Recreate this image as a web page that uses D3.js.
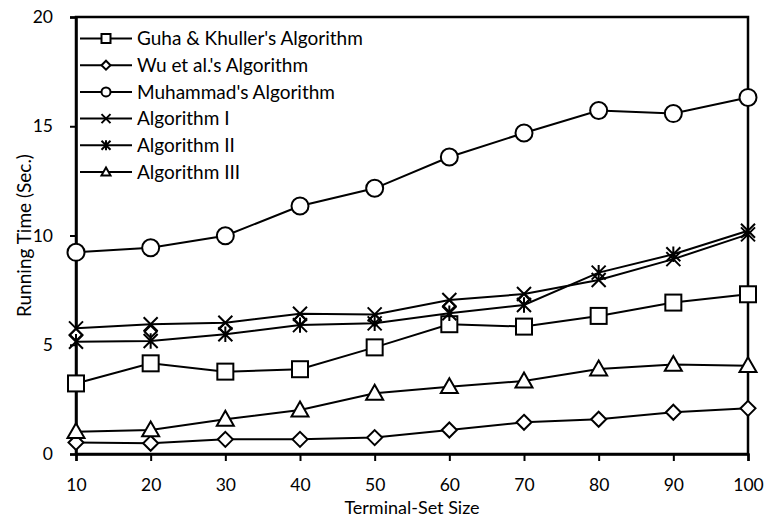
<!DOCTYPE html>
<html>
<head>
<meta charset="utf-8">
<script src="https://cdn.jsdelivr.net/npm/d3@7"></script>
<style>
  body { margin: 0; background: #fff; }
  text { font-family: Lato, "Open Sans", sans-serif; fill: #000; }
</style>
</head>
<body>
<div id="chart"></div>
<script>
// terminal-set sizes
const sizes = [10, 20, 30, 40, 50, 60, 70, 80, 90, 100];

const guha = [3.23, 4.15, 3.77, 3.88, 4.88, 5.94, 5.83, 6.32, 6.93, 7.31];
const wu = [0.53, 0.49, 0.67, 0.67, 0.75, 1.10, 1.45, 1.59, 1.91, 2.09];
const muhammad = [9.23, 9.44, 9.99, 11.35, 12.16, 13.59, 14.69, 15.72, 15.58, 16.32];
const algI = [5.75, 5.94, 6.01, 6.42, 6.39, 7.05, 7.32, 7.96, 8.92, 10.05];
const algII = [5.14, 5.17, 5.48, 5.9, 5.98, 6.44, 6.82, 8.3, 9.14, 10.22];
const algIII = [1.02, 1.10, 1.59, 2.01, 2.78, 3.08, 3.34, 3.89, 4.1, 4.04];
// stray diamond markers that sit between Algorithm I and II in the original
const strayDiamonds = [5.45, 5.6, 5.75, 6.13, 6.13, 6.77, 7.08, null, null, null];

const yTicks = [0, 5, 10, 15, 20];

const names = ["Guha & Khuller's Algorithm", "Wu et al.'s Algorithm", "Muhammad's Algorithm",
               "Algorithm I", "Algorithm II", "Algorithm III"];
const series = [guha, wu, muhammad, algI, algII, algIII];
const shapes = ["square", "diamond", "circle", "x", "star", "triangle"];

const W = 764, H = 519;
const margin = {top: 17, right: 16, bottom: 65, left: 76};

const svg = d3.select("#chart").append("svg")
  .attr("width", W).attr("height", H);

const x = d3.scaleLinear().domain([10, 100]).range([margin.left, W - margin.right]);
const y = d3.scaleLinear().domain([0, 20]).range([H - margin.bottom, margin.top]);

// frame
svg.append("rect")
  .attr("x", x(10)).attr("y", y(20))
  .attr("width", x(100) - x(10)).attr("height", y(0) - y(20))
  .attr("fill", "none").attr("stroke", "#000").attr("stroke-width", 2.5);

const xAxis = svg.append("g")
  .attr("transform", `translate(0,${y(0)})`)
  .call(d3.axisBottom(x).tickValues(sizes).tickSize(7).tickPadding(18));
const yAxis = svg.append("g")
  .attr("transform", `translate(${x(10)},0)`)
  .call(d3.axisLeft(y).tickValues(yTicks).tickSize(6).tickPadding(17));

[xAxis, yAxis].forEach(a => {
  a.select(".domain").attr("stroke-width", 2.5);
  a.selectAll(".tick line").attr("stroke-width", 2);
  a.selectAll("text").style("font-size", "17.5px").style("font-family", "Lato, sans-serif");
});

svg.append("text")
  .attr("x", (x(10) + x(100)) / 2).attr("y", 514)
  .attr("text-anchor", "middle").style("font-size", "18px")
  .text("Terminal-Set Size");

svg.append("text")
  .attr("transform", `translate(31,${(y(0) + y(20)) / 2}) rotate(-90)`)
  .attr("text-anchor", "middle").style("font-size", "19px")
  .text("Running Time (Sec.)");

function marker(g, shape, s) {
  const st = {fill: "#fff", stroke: "#000", "stroke-width": 2};
  let m;
  if (shape === "square") {
    m = g.append("rect").attr("x", -s).attr("y", -s).attr("width", 2 * s).attr("height", 2 * s);
  } else if (shape === "diamond") {
    m = g.append("path").attr("d", `M0,${-s}L${s},0L0,${s}L${-s},0Z`);
  } else if (shape === "circle") {
    m = g.append("circle").attr("r", s);
  } else if (shape === "triangle") {
    m = g.append("path").attr("d", `M0,${-s}L${s},${s * 0.75}L${-s},${s * 0.75}Z`);
  } else if (shape === "x") {
    m = g.append("path").attr("d", `M${-s},${-s}L${s},${s}M${-s},${s}L${s},${-s}`);
  } else {
    m = g.append("path").attr("d", `M${-s},${-s}L${s},${s}M${-s},${s}L${s},${-s}M0,${-s * 1.1}L0,${s * 1.1}`);
  }
  Object.entries(st).forEach(([k, v]) => m.attr(k, v));
  return m;
}

const sizeOf = {square: 8, diamond: 7.5, circle: 8.5, triangle: 8.5, x: 7, star: 7};

const line = d3.line()
  .defined(d => d[1] != null)
  .x(d => x(d[0])).y(d => y(d[1]));

// stray diamonds go underneath
const strayG = svg.append("g");
sizes.forEach((s, i) => {
  if (strayDiamonds[i] == null) return;
  const g = strayG.append("g").attr("transform", `translate(${x(s)},${y(strayDiamonds[i])})`);
  marker(g, "diamond", 6);
});

series.forEach((vals, k) => {
  const pts = sizes.map((s, i) => [s, vals[i]]);
  svg.append("path")
    .datum(pts)
    .attr("d", line)
    .attr("fill", "none").attr("stroke", "#000").attr("stroke-width", 2);
  pts.forEach(p => {
    const g = svg.append("g").attr("transform", `translate(${x(p[0])},${y(p[1])})`);
    marker(g, shapes[k], sizeOf[shapes[k]]);
    if (shapes[k] === "x" || shapes[k] === "star") g.select("path").attr("fill", "none");
  });
});

// legend
const legend = svg.append("g").attr("transform", "translate(80,38.5)");
names.forEach((n, i) => {
  const g = legend.append("g").attr("transform", `translate(0,${i * 26.7})`);
  g.append("line").attr("x1", 0).attr("x2", 52).attr("stroke", "#000").attr("stroke-width", 2);
  const mg = g.append("g").attr("transform", "translate(26,0)");
  marker(mg, shapes[i], 4.5);
  g.append("text").attr("x", 57).attr("dy", "0.35em").style("font-size", "19px").text(n);
});
</script>
</body>
</html>
